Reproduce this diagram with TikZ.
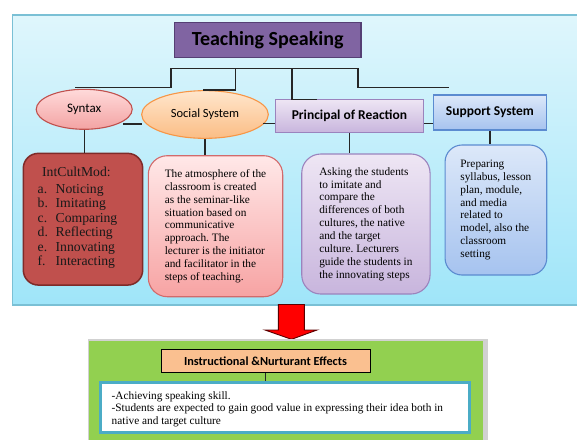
\documentclass[tikz,border=0pt]{standalone}
\usepackage{fontspec}
\setmainfont{Liberation Serif}
\newfontfamily\calibri{Carlito}
\usetikzlibrary{shapes.geometric}
\frenchspacing
\definecolor{outerTop}{HTML}{DFF6FC}
\definecolor{outerBot}{HTML}{9FE5F9}
\definecolor{outerBorder}{HTML}{7AC0D5}
\definecolor{ttlFill}{HTML}{8064A2}
\definecolor{ttlBorder}{HTML}{553F74}
\definecolor{synTop}{HTML}{FFDADA}
\definecolor{synBot}{HTML}{F3A3A3}
\definecolor{synBorder}{HTML}{C0504D}
\definecolor{socTop}{HTML}{FFE6CC}
\definecolor{socBot}{HTML}{FBBD85}
\definecolor{socBorder}{HTML}{F79646}
\definecolor{priTop}{HTML}{EEE6F4}
\definecolor{priBot}{HTML}{C8B5DD}
\definecolor{priBorder}{HTML}{9B83BD}
\definecolor{supTop}{HTML}{DCE8F9}
\definecolor{supBot}{HTML}{A6C3EF}
\definecolor{supBorder}{HTML}{5B8BD0}
\definecolor{synBoxFill}{HTML}{C0504D}
\definecolor{synBoxBorder}{HTML}{7F2B29}
\definecolor{socBoxTop}{HTML}{FFE8E8}
\definecolor{socBoxBot}{HTML}{F7A3A3}
\definecolor{socBoxBorder}{HTML}{D26A6B}
\definecolor{greenFill}{HTML}{92D050}
\definecolor{effFill}{HTML}{FAC090}
\definecolor{whiteBorder}{HTML}{4BACC6}
\definecolor{arrowRed}{HTML}{FF0000}
\definecolor{arrowBorder}{HTML}{5A0000}
\tikzset{
  conn/.style={draw=black!85, line width=1.2pt},
  titlebox/.style={draw=ttlBorder, fill=ttlFill, line width=1.5pt, inner sep=0pt,
    minimum width=186.7pt, minimum height=35pt, font=\calibri\bfseries\fontsize{20}{24}\selectfont},
  oval/.style={ellipse, line width=1.1pt, inner sep=0pt},
  headbox/.style={line width=1.1pt, inner sep=0pt, font=\calibri\bfseries\fontsize{13.5}{16}\selectfont},
  textbox/.style={line width=1.1pt, rounded corners=17pt, inner sep=0pt, align=left,
    font=\fontsize{11.3}{12.9}\selectfont\frenchspacing},
}
\begin{document}
\begin{tikzpicture}[x=1pt,y=-1pt]
\clip (0,0) rectangle (577,439);
\fill[white] (0,0) rectangle (577,439);
% outer panel
\shade[top color=outerTop, bottom color=outerBot, draw=outerBorder, line width=1.2pt]
  (12.7,15) rectangle (600,305);
% title
\node[titlebox] (title) at (267.7,40.2) {Teaching Speaking};
% header nodes
\node[oval, top color=synTop, bottom color=synBot, draw=synBorder,
  minimum width=96pt, minimum height=40pt, font=\calibri\fontsize{13}{15}\selectfont]
  (syntax) at (84.2,109.3) {Syntax};
\node[oval, top color=socTop, bottom color=socBot, draw=socBorder,
  minimum width=126.7pt, minimum height=47.7pt, font=\calibri\fontsize{12.5}{15}\selectfont]
  (social) at (205,114.5) {Social System};
\node[headbox, top color=priTop, bottom color=priBot, draw=priBorder,
  minimum width=148.7pt, minimum height=33.7pt] (principal) at (349.4,115.9) {Principal of Reaction};
\node[headbox, top color=supTop, bottom color=supBot, draw=supBorder,
  minimum width=112.3pt, minimum height=35pt] (support) at (489.9,112.5) {Support System};
% tree connectors
\coordinate (hL) at (171,68.3);
\coordinate (hA) at (235.7,68.3);
\coordinate (hB) at (292,68.3);
\coordinate (hR) at (358,68.3);
\coordinate (eL) at (75,87.3);
\coordinate (eA) at (203.3,90);
\coordinate (eB) at (317,99.3);
\coordinate (eR) at (449.3,87.3);
\draw[conn] (hL) -- (hR);
\draw[conn] (hL) |- (eL);
\draw[conn] (hA) |- (eA);
\draw[conn] (hB) |- (eB);
\draw[conn] (hR) |- (eR);
% small links between header nodes
\coordinate (lA) at (123,124);
\coordinate (lB) at (141.7,124);
\coordinate (lC) at (263,123.3);
\draw[conn] (lA) -- (lB);
\draw[conn] (lC) -- (principal.west |- lC);
\draw[conn] (principal.east |- lC) -- (support.west |- lC);
% text boxes
\node[textbox, rounded corners=15pt, fill=synBoxFill, draw=synBoxBorder, line width=1.5pt,
  minimum width=119.4pt, minimum height=131.7pt] (synbox) at (83,219.2) {};
\node[font=\fontsize{13.7}{14.5}\selectfont, align=left, inner sep=0pt, text=black!90] (syntext) at (77.5,218)
  {\hspace*{4.5pt}IntCultMod:\\[1.8pt]
   \makebox[18pt][l]{a.}Noticing\\
   \makebox[18pt][l]{b.}Imitating\\
   \makebox[18pt][l]{c.}Comparing\\
   \makebox[18pt][l]{d.}Reflecting\\
   \makebox[18pt][l]{e.}Innovating\\
   \makebox[18pt][l]{f.}Interacting};
\node[textbox, rounded corners=19pt, top color=socBoxTop, bottom color=socBoxBot, draw=socBoxBorder,
  minimum width=134.4pt, minimum height=141pt] (socbox) at (215.5,226.2)
  {The atmosphere of the\\classroom is created\\as the seminar-like\\situation based on\\communicative\\approach. The\\lecturer is the initiator\\and facilitator in the\\steps of teaching.};
\node[textbox, rounded corners=19pt, top color=priTop, bottom color=priBot, draw=priBorder,
  minimum width=128.3pt, minimum height=140pt] (pribox) at (365.9,224)
  {Asking the students\\to imitate and\\compare the\\differences of both\\cultures, the native\\and the target\\culture. Lecturers\\guide the students in\\the innovating steps};
\node[textbox, rounded corners=17pt, top color=supTop, bottom color=supBot, draw=supBorder,
  minimum width=101.7pt, minimum height=130pt] (supbox) at (495.9,210)
  {Preparing\\syllabus, lesson\\plan, module,\\and media\\related to\\model, also the\\classroom\\setting};
% verticals
\draw[conn] (syntax.south) -- (syntax.south |- synbox.north);
\draw[conn] (social.south) -- (social.south |- socbox.north);
\draw[conn] (principal.south) -- (principal.south |- pribox.north);
\draw[conn] (support.south) -- (support.south |- supbox.north);
% red arrow
\draw[fill=arrowRed, draw=arrowBorder, line width=0.9pt, line join=miter]
  (278.3,304.5) -- (304.3,304.5) -- (304.3,330) -- (317,330) -- (291.5,339.3)
  -- (265,330) -- (278.3,330) -- cycle;
% bottom panel
\fill[black!18] (87.5,338.5) rectangle (488,450);
\fill[greenFill] (89.3,340.7) rectangle (483.3,450);
\node[draw=black, fill=effFill, line width=1pt, inner sep=0pt, minimum width=209pt, minimum height=23.4pt,
  font=\calibri\bfseries\fontsize{12.3}{14}\selectfont] (effects) at (265.5,361) {Instructional \&Nurturant Effects};
\node[draw=whiteBorder, fill=white, line width=2.6pt, inner sep=0pt,
  minimum width=368.6pt, minimum height=50pt] (outcome) at (285,407.7) {};
\draw[conn] (effects.south) -- (effects.south |- outcome.north);
\node[anchor=west, align=left, inner sep=0pt, font=\fontsize{11.3}{12.5}\selectfont] (outtext) at (111.5,409.2)
  {-Achieving speaking skill.\\-Students are expected to gain good value in expressing their idea both in\\native and target culture};
\end{tikzpicture}
\end{document}
